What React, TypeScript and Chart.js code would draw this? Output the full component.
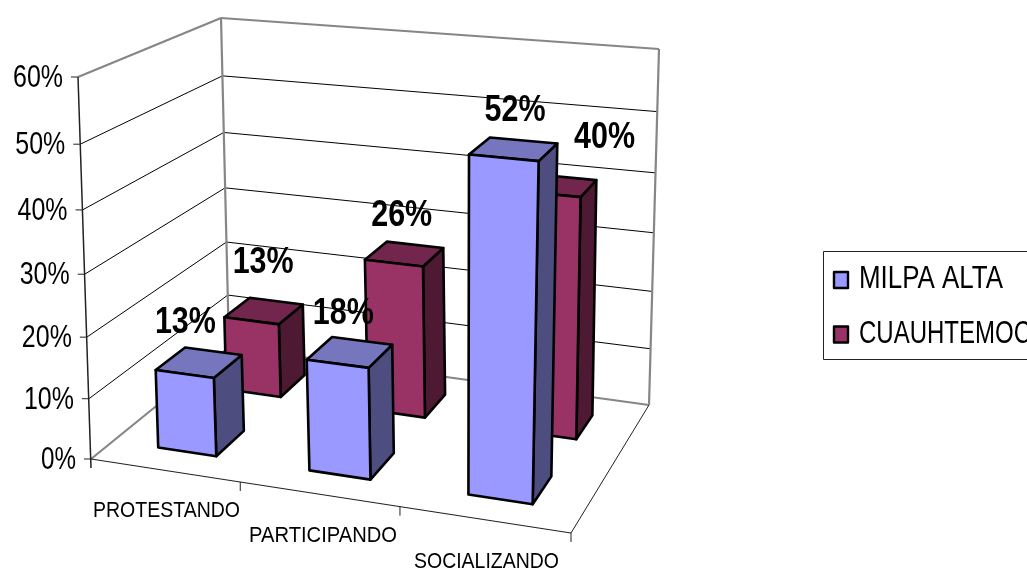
import React, { useEffect, useRef } from "react";
import { Chart, registerables } from "chart.js";

Chart.register(...registerables);

const categories = ["PROTESTANDO", "PARTICIPANDO", "SOCIALIZANDO"];
const seriesNames = ["MILPA ALTA", "CUAUHTEMOC"];
const milpaAlta = [0.13, 0.18, 0.52];
const cuauhtemoc = [0.13, 0.26, 0.4];
const axisTicks = [0, 0.1, 0.2, 0.3, 0.4, 0.5, 0.6];

type Pt = [number, number];

function homography(p00: Pt, p10: Pt, p11: Pt, p01: Pt) {
  const dx1 = p10[0] - p11[0], dx2 = p01[0] - p11[0], sx = p00[0] - p10[0] + p11[0] - p01[0];
  const dy1 = p10[1] - p11[1], dy2 = p01[1] - p11[1], sy = p00[1] - p10[1] + p11[1] - p01[1];
  const det = dx1 * dy2 - dx2 * dy1;
  const g = (sx * dy2 - dx2 * sy) / det;
  const h = (dx1 * sy - sx * dy1) / det;
  const a = p10[0] - p00[0] + g * p10[0], b = p01[0] - p00[0] + h * p01[0];
  const d = p10[1] - p00[1] + g * p10[1], e = p01[1] - p00[1] + h * p01[1];
  return (u: number, v: number): Pt => {
    const w = 1 + g * u + h * v;
    return [(a * u + b * v + p00[0]) / w, (d * u + e * v + p00[1]) / w];
  };
}

// Projection of the 3-D plot box onto the page
const floor = homography([91, 459], [571, 533], [649, 405], [229, 347]);
const ceiling = homography([78, 77], [584, 122], [659, 49], [221, 18]);
const PERSPECTIVE = 0.937;
function project(u: number, v: number, t: number): Pt {
  const f = (t * PERSPECTIVE) / (1 - t + t * PERSPECTIVE);
  const a = floor(u, v), b = ceiling(u, v);
  return [a[0] + (b[0] - a[0]) * f, a[1] + (b[1] - a[1]) * f];
}
const warp = (u: number, k: number) => u + k * u * (1 - u);

const depthBands = [[0.145, 0.35], [0.645, 0.85]];
const seriesColors = [
  { front: "#9999FF", top: "#7676BF", side: "#4D4D80" },
  { front: "#993366", top: "#73264D", side: "#4D1933" },
];
// Label displacement from the projected bar-top centre, per series and category
const labelOffsets: Pt[][] = [
  [[-15, -41], [-9, -40], [0, -40]],
  [[-2, -50], [-5, -40], [46, -49]],
];

function line(ctx: CanvasRenderingContext2D, a: Pt, b: Pt, color: string, width: number) {
  ctx.strokeStyle = color;
  ctx.lineWidth = width;
  ctx.beginPath();
  ctx.moveTo(a[0], a[1]);
  ctx.lineTo(b[0], b[1]);
  ctx.stroke();
}

function poly(ctx: CanvasRenderingContext2D, pts: Pt[], fill: string) {
  ctx.fillStyle = fill;
  ctx.strokeStyle = "#000";
  ctx.lineWidth = 2.6;
  ctx.lineJoin = "round";
  ctx.beginPath();
  pts.forEach((p, i) => (i ? ctx.lineTo(p[0], p[1]) : ctx.moveTo(p[0], p[1])));
  ctx.closePath();
  ctx.fill();
  ctx.stroke();
}

function fitText(ctx: CanvasRenderingContext2D, text: string, x: number, cy: number, font: string, size: number, width: number, align: "left" | "right" | "center" = "left") {
  ctx.save();
  ctx.font = `${font} ${size}px 'Liberation Sans'`;
  ctx.fillStyle = "#000";
  ctx.textBaseline = "alphabetic";
  ctx.textAlign = "left";
  const natural = ctx.measureText(text).width;
  const k = width / natural;
  const left = align === "left" ? x : align === "right" ? x - width : x - width / 2;
  ctx.translate(left, cy + size * 0.33);
  ctx.scale(k, 1);
  ctx.fillText(text, 0, 0);
  ctx.restore();
}

const box3d = {
  id: "box3d",
  afterDatasetsDraw(chart: any) {
    const ctx: CanvasRenderingContext2D = chart.ctx;
    const xs = chart.scales.x, ys = chart.scales.y;
    const frac = (value: number) => (ys.bottom - ys.getPixelForValue(value)) / (ys.bottom - ys.top);
    const GREY = "#868686";
    ctx.save();
    ctx.lineCap = "butt";

    // Gridlines on both walls
    axisTicks.slice(1, -1).forEach((tick) => {
      const t = frac(tick);
      line(ctx, project(0, 0, t), project(0, 1, t), "#000", 1);
      line(ctx, project(0, 1, t), project(1, 1, t), "#000", 1);
    });
    // Wall outline
    line(ctx, project(0, 0, 1), project(0, 1, 1), GREY, 2.2);
    line(ctx, project(0, 1, 1), project(1, 1, 1), GREY, 2.2);
    line(ctx, project(0, 1, 0), project(0, 1, 1), GREY, 2.2);
    line(ctx, project(1, 1, 0), project(1, 1, 1), GREY, 2.2);
    line(ctx, project(0, 0, 0), project(0, 1, 0), GREY, 2.2);
    line(ctx, project(0, 1, 0), project(1, 1, 0), GREY, 2.2);
    // Axes
    const foot = project(0, 0, 0);
    line(ctx, project(0, 0, 1), [foot[0], foot[1] + 9], "#222", 1.5);
    line(ctx, foot, project(1, 0, 0), "#222", 1.2);
    line(ctx, project(1, 0, 0), project(1, 1, 0), "#222", 1);
    categories.forEach((_, i) => {
      const p = project(warp((i + 1) / categories.length, -0.045), 0, 0);
      line(ctx, p, [p[0], p[1] + 9], "#222", 1);
    });

    // Value axis ticks and labels
    axisTicks.forEach((tick) => {
      const p = project(0, 0, frac(tick));
      line(ctx, p, [p[0] - 7, p[1]], "#222", 1);
      const label = `${Math.round(tick * 100)}%`;
      fitText(ctx, label, p[0] - 15, p[1], "", 31, label.length === 2 ? 35 : 50, "right");
    });

    // Category labels
    const catBoxes: [number, number, number][] = [[93, 510, 147], [249, 535, 148], [414, 561, 145]];
    categories.forEach((c, i) => {
      const [x, y, w] = catBoxes[i];
      fitText(ctx, c, x, y, "", 22.5, w);
    });

    // Bars, back series first
    for (let s = chart.data.datasets.length - 1; s >= 0; s--) {
      const meta = chart.getDatasetMeta(s);
      const [v0, v1] = depthBands[s];
      const col = seriesColors[s];
      meta.data.forEach((el: any) => {
        const u0 = warp((el.x - el.width / 2 - xs.left) / (xs.right - xs.left), -0.02);
        const u1 = warp((el.x + el.width / 2 - xs.left) / (xs.right - xs.left), -0.02);
        const t = (ys.bottom - el.y) / (ys.bottom - ys.top);
        poly(ctx, [project(u1, v0, 0), project(u1, v1, 0), project(u1, v1, t), project(u1, v0, t)], col.side);
        poly(ctx, [project(u0, v0, t), project(u1, v0, t), project(u1, v1, t), project(u0, v1, t)], col.top);
        poly(ctx, [project(u0, v0, 0), project(u1, v0, 0), project(u1, v0, t), project(u0, v0, t)], col.front);
      });
    }

    // Value labels
    chart.data.datasets.forEach((ds: any, s: number) => {
      const meta = chart.getDatasetMeta(s);
      const [v0, v1] = depthBands[s];
      meta.data.forEach((el: any, i: number) => {
        const u = (el.x - xs.left) / (xs.right - xs.left);
        const t = (ys.bottom - el.y) / (ys.bottom - ys.top);
        const p = project(u, (v0 + v1) / 2, t);
        const off = labelOffsets[s][i];
        fitText(ctx, `${Math.round(ds.data[i] * 100)}%`, p[0] + off[0], p[1] + off[1], "bold", 36, 61, "center");
      });
    });

    // Legend
    ctx.strokeStyle = "#222";
    ctx.lineWidth = 1;
    ctx.strokeRect(823.5, 251.5, 260, 108);
    const rows: [number, number, number][] = [[280, 278, 144], [334.5, 333, 172]];
    seriesNames.forEach((name, s) => {
      const [swatchY, textY, w] = rows[s];
      ctx.fillStyle = seriesColors[s].front;
      ctx.strokeStyle = "#000";
      ctx.lineWidth = 2.4;
      ctx.fillRect(834, swatchY - 8, 14, 16);
      ctx.strokeRect(834, swatchY - 8, 14, 16);
      fitText(ctx, name, 859, textY, "", 31, w);
    });
    ctx.restore();
  },
};

export default function App() {
  const ref = useRef<HTMLCanvasElement>(null);
  useEffect(() => {
    document.body.style.margin = "0";
    document.body.style.overflow = "hidden";
    const chart = new Chart(ref.current!, {
      type: "bar",
      data: {
        labels: categories,
        datasets: [
          { label: seriesNames[0], data: milpaAlta, backgroundColor: "transparent", borderWidth: 0, grouped: false, barPercentage: 0.39, categoryPercentage: 1 },
          { label: seriesNames[1], data: cuauhtemoc, backgroundColor: "transparent", borderWidth: 0, grouped: false, barPercentage: 0.39, categoryPercentage: 1 },
        ],
      } as any,
      options: {
        responsive: false,
        animation: false,
        devicePixelRatio: 1,
        events: [],
        layout: { padding: { left: 0, right: 0, top: 77, bottom: 110 } },
        plugins: { legend: { display: false }, tooltip: { enabled: false } },
        scales: {
          x: { display: false },
          y: { display: false, min: 0, max: 0.6, ticks: { stepSize: 0.1 } },
        },
      },
      plugins: [box3d],
    } as any);
    return () => chart.destroy();
  }, []);
  return <canvas ref={ref} width={1027} height={569} style={{ display: "block", width: 1027, height: 569 }} />;
}
